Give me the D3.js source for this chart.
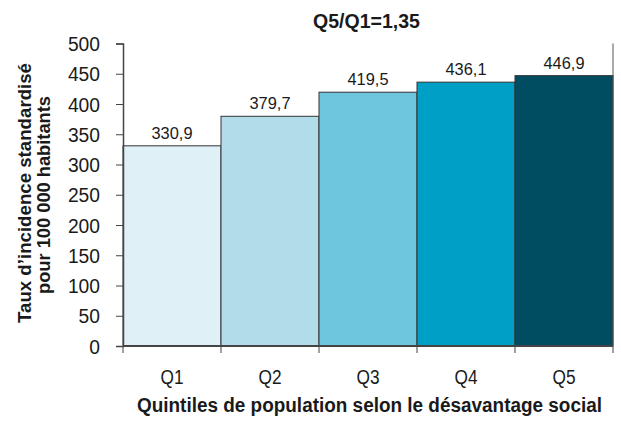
<!DOCTYPE html>
<html><head><meta charset="utf-8">
<script src="https://cdn.jsdelivr.net/npm/d3@7"></script>
<style>
body{margin:0;background:#fff;}
text{font-family:"Liberation Sans","Arimo",Arial,sans-serif;}
</style></head>
<body><svg id="c" width="621" height="421"></svg>
<script>
const categories = ["Q1","Q2","Q3","Q4","Q5"];
const values = [330.9, 379.7, 419.5, 436.1, 446.9];
const valueLabels = ["330,9","379,7","419,5","436,1","446,9"];
const colors = ["#dff0f7","#b2dcea","#6dc6de","#00a0c6","#004d61"];
const yTicks = [0,50,100,150,200,250,300,350,400,450,500];
const title = "Q5/Q1=1,35";
const yTitle = ["Taux d\u2019incidence standardisé","pour 100 000 habitants"];
const xTitle = "Quintiles de population selon le désavantage social";

const svg = d3.select("#c");
const m = {l:123, r:8, t:43.5, b:75};
const W = 621, H = 421;
const x = d3.scaleBand().domain(categories).range([m.l, W-m.r]).padding(0);
const y = d3.scaleLinear().domain([0,500]).range([H-m.b, m.t]);

svg.append("g").selectAll("rect").data(values).join("rect")
  .attr("x",(d,i)=>x(categories[i])).attr("width",x.bandwidth())
  .attr("y",d=>y(d)).attr("height",d=>y(0)-y(d))
  .attr("fill",(d,i)=>colors[i]).attr("stroke","#333").attr("stroke-width",1);

// right frame line
svg.append("line").attr("x1",W-m.r).attr("x2",W-m.r).attr("y1",y(500)).attr("y2",y(0))
  .attr("stroke","#555").attr("stroke-width",1);

const ya = svg.append("g").attr("transform",`translate(${m.l},0)`)
  .call(d3.axisLeft(y).tickValues(yTicks).tickSize(7).tickPadding(16));
ya.attr("font-family",null).attr("font-size",null);
ya.select(".domain").attr("stroke","#444").attr("stroke-width",1.5);
ya.selectAll(".tick line").attr("stroke","#444");
ya.selectAll("text").attr("font-size",20).attr("fill","#1a1a1a").attr("dy","0.36em")
  .attr("textLength",function(){return this.textContent.length*10.7;})
  .attr("lengthAdjust","spacingAndGlyphs");

// x axis
const xa = svg.append("g").attr("transform",`translate(0,${y(0)})`);
xa.append("line").attr("x1",m.l).attr("x2",W-m.r).attr("stroke","#444").attr("stroke-width",2);
const bounds = categories.map(c=>x(c)).concat([x(categories[4])+x.bandwidth()]);
xa.selectAll(".bt").data(bounds).join("line").attr("x1",d=>d).attr("x2",d=>d)
  .attr("y1",0).attr("y2",7).attr("stroke","#444");
xa.selectAll(".xl").data(categories).join("text")
  .attr("x",d=>x(d)+x.bandwidth()/2).attr("y",38).attr("text-anchor","middle")
  .attr("font-size",20).attr("fill","#1a1a1a")
  .attr("textLength",23).attr("lengthAdjust","spacingAndGlyphs").text(d=>d);

svg.selectAll(".vl").data(values).join("text")
  .attr("x",(d,i)=>x(categories[i])+x.bandwidth()/2).attr("y",d=>y(d)-7)
  .attr("text-anchor","middle").attr("font-size",16.5).attr("fill","#1a1a1a")
  .attr("textLength",41).attr("lengthAdjust","spacingAndGlyphs")
  .text((d,i)=>valueLabels[i]);

svg.append("text").attr("x",366.5).attr("y",28).attr("text-anchor","middle")
  .attr("font-size",20).attr("font-weight","bold").attr("fill","#1a1a1a")
  .attr("textLength",107).attr("lengthAdjust","spacingAndGlyphs").text(title);

svg.append("text").attr("x",369.5).attr("y",412).attr("text-anchor","middle")
  .attr("font-size",19.5).attr("font-weight","bold").attr("fill","#1a1a1a")
  .attr("textLength",465).attr("lengthAdjust","spacingAndGlyphs").text(xTitle);

const yt = svg.append("text").attr("transform","translate(0,193) rotate(-90)")
  .attr("text-anchor","middle").attr("font-size",19).attr("font-weight","bold").attr("fill","#1a1a1a");
yt.append("tspan").attr("x",0).attr("y",31).attr("textLength",260).attr("lengthAdjust","spacingAndGlyphs").text(yTitle[0]);
yt.append("tspan").attr("x",-2).attr("y",50).attr("textLength",198).attr("lengthAdjust","spacingAndGlyphs").text(yTitle[1]);
</script></body></html>
